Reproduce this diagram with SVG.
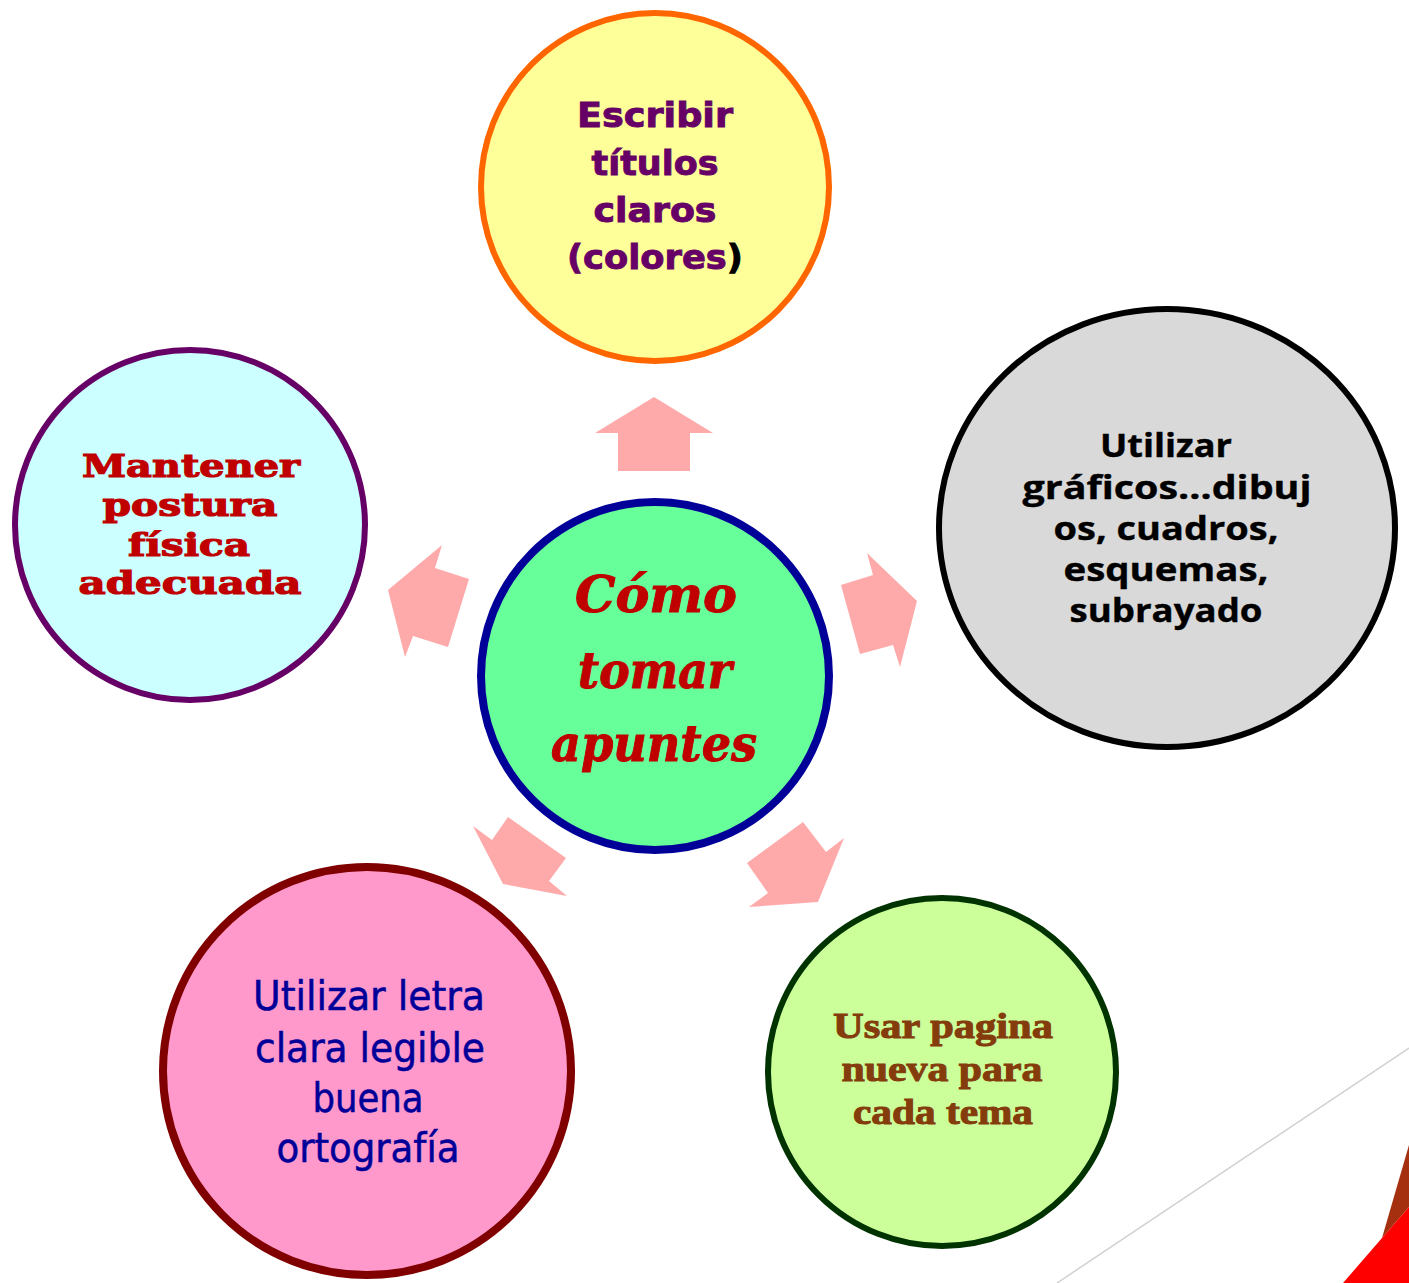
<svg xmlns="http://www.w3.org/2000/svg" width="1409" height="1283" viewBox="0 0 1409 1283">
<style>
.arrow{fill:#FFAAAA;stroke:none}
.t-top{font-family:"DejaVu Sans",Verdana,sans-serif;font-weight:bold;font-size:33px;fill:#660066;stroke:#660066;stroke-width:0.9;text-anchor:middle}
.t-right{font-family:"Open Sans","DejaVu Sans",sans-serif;font-weight:bold;font-size:33px;fill:#000000;stroke:#000000;stroke-width:0.4;text-anchor:middle}
.t-left{font-family:"DejaVu Serif","Liberation Serif",serif;font-weight:900;font-size:32px;fill:#C00000;stroke:#C00000;stroke-width:1.2;text-anchor:middle}
.t-center{font-family:"DejaVu Serif","Liberation Serif",serif;font-weight:bold;font-style:italic;font-size:50px;fill:#C00000;stroke:#C00000;stroke-width:1;text-anchor:middle}
.t-bl{font-family:"DejaVu Sans Condensed","Roboto",sans-serif;font-size:40px;fill:#000099;stroke:#000099;stroke-width:0.5;text-anchor:middle}
.t-br{font-family:"Liberation Serif","DejaVu Serif",serif;font-weight:bold;font-size:36px;fill:#843C0C;stroke:#843C0C;stroke-width:1;text-anchor:middle}
</style>
<rect x="0" y="0" width="1409" height="1283" fill="#FFFFFF"/>
<g id="background">
<line x1="1409" y1="1048" x2="1057" y2="1283" stroke="#D0D0D0" stroke-width="1.5"/>
<polygon points="1409,1145 1382,1238 1409,1207" fill="#A5300F"/>
<polygon points="1382,1238 1409,1207 1409,1283 1343,1283" fill="#FF0000"/>
</g>
<g id="connectors">
<polygon class="arrow" points="654,397 713,433 690,433 690,471 618,471 618,433 595,433"/>
<polygon class="arrow" points="388,590 442,545 435,568 469,579 448,647 413,636 405,657"/>
<polygon class="arrow" points="917,601 867,553 873,575 841,585 860,654 893,645 900,667"/>
<polygon class="arrow" points="503,884 473,826 492,840 508,817 566,858 549,881 567,896"/>
<polygon class="arrow" points="818,902 749,907 768,893 747,863 803,822 826,852 844,838"/>
</g>
<g id="node-top">
<circle cx="655" cy="187" r="174" fill="#FFFF99" stroke="#FF6600" stroke-width="6"/>
<text class="t-top" x="655" y="127" textLength="156" lengthAdjust="spacingAndGlyphs">Escribir</text>
<text class="t-top" x="655" y="175" textLength="127" lengthAdjust="spacingAndGlyphs">títulos</text>
<text class="t-top" x="655" y="222" textLength="123" lengthAdjust="spacingAndGlyphs">claros</text>
<text class="t-top" x="655" y="269" textLength="176" lengthAdjust="spacingAndGlyphs">(colores<tspan fill="#000000" stroke="#000000">)</tspan></text>
</g>
<g id="node-right">
<ellipse cx="1167" cy="528" rx="228" ry="219" fill="#D9D9D9" stroke="#000000" stroke-width="6"/>
<text class="t-right" x="1166" y="457" textLength="132" lengthAdjust="spacingAndGlyphs">Utilizar</text>
<text class="t-right" x="1167" y="499" textLength="289" lengthAdjust="spacingAndGlyphs">gráficos…dibuj</text>
<text class="t-right" x="1166" y="540" textLength="225" lengthAdjust="spacingAndGlyphs">os, cuadros,</text>
<text class="t-right" x="1166" y="581" textLength="205" lengthAdjust="spacingAndGlyphs">esquemas,</text>
<text class="t-right" x="1166" y="622" textLength="193" lengthAdjust="spacingAndGlyphs">subrayado</text>
</g>
<g id="node-left">
<circle cx="190" cy="525" r="175" fill="#CCFFFF" stroke="#660066" stroke-width="6"/>
<text class="t-left" x="191" y="477" textLength="218" lengthAdjust="spacingAndGlyphs">Mantener</text>
<text class="t-left" x="190" y="516" textLength="175" lengthAdjust="spacingAndGlyphs">postura</text>
<text class="t-left" x="189" y="556" textLength="122" lengthAdjust="spacingAndGlyphs">física</text>
<text class="t-left" x="190" y="594" textLength="223" lengthAdjust="spacingAndGlyphs">adecuada</text>
</g>
<g id="node-center">
<circle cx="655" cy="676" r="174" fill="#66FF99" stroke="#000099" stroke-width="8"/>
<text class="t-center" x="656" y="612" textLength="162" lengthAdjust="spacingAndGlyphs">Cómo</text>
<text class="t-center" x="655" y="688" textLength="154" lengthAdjust="spacingAndGlyphs">tomar</text>
<text class="t-center" x="654" y="761" textLength="206" lengthAdjust="spacingAndGlyphs">apuntes</text>
</g>
<g id="node-bottom-left">
<circle cx="367" cy="1071" r="204" fill="#FF99CC" stroke="#800000" stroke-width="8"/>
<text class="t-bl" x="369" y="1010" textLength="232" lengthAdjust="spacingAndGlyphs">Utilizar letra</text>
<text class="t-bl" x="370" y="1062" textLength="230" lengthAdjust="spacingAndGlyphs">clara legible</text>
<text class="t-bl" x="368" y="1112" textLength="111" lengthAdjust="spacingAndGlyphs">buena</text>
<text class="t-bl" x="368" y="1162" textLength="183" lengthAdjust="spacingAndGlyphs">ortografía</text>
</g>
<g id="node-bottom-right">
<circle cx="942" cy="1072" r="174" fill="#CCFF99" stroke="#003300" stroke-width="6"/>
<text class="t-br" x="943" y="1038" textLength="220" lengthAdjust="spacingAndGlyphs">Usar pagina</text>
<text class="t-br" x="942" y="1081" textLength="201" lengthAdjust="spacingAndGlyphs">nueva para</text>
<text class="t-br" x="943" y="1124" textLength="180" lengthAdjust="spacingAndGlyphs">cada tema</text>
</g>
</svg>
